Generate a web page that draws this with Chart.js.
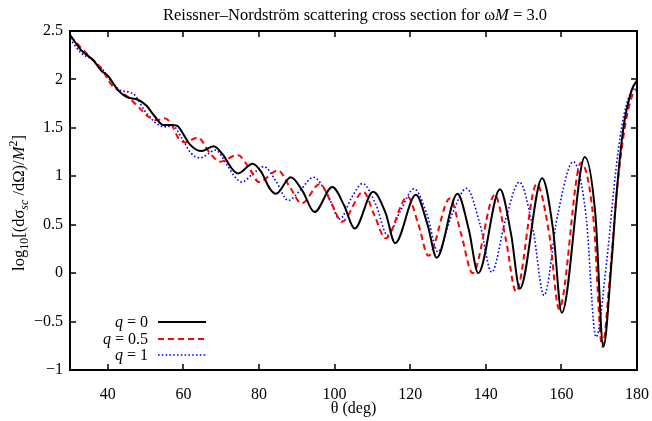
<!DOCTYPE html>
<html>
<head>
<meta charset="utf-8">
<script src="https://cdn.jsdelivr.net/npm/chart.js@4.4.1/dist/chart.umd.min.js"></script>
<style>
  html, body { margin: 0; padding: 0; background: #fff; }
  #wrap { width: 652px; height: 421px; position: relative; }
</style>
</head>
<body>
<div id="wrap"><canvas id="xsec"></canvas></div>
<script>
// scattering angle (deg) and log10 cross section
const thetaQ0 = [30, 33, 36.1, 38.3, 40.0, 42.7, 44.9, 48.0, 50.2, 52.4, 54.6, 56.8, 58.4, 60.2, 61.7, 64.8, 68.0, 70.5, 72.8, 74.5,
  78.3, 80.5, 82.9, 84.5, 88.4, 91.5, 94.7, 99.4, 102.5, 105.3, 110.2, 113.5, 116.0, 121.5, 124.6, 127.0, 132.5, 135.5, 138.0,
  143.75, 146.7, 149.0, 154.9, 157.8, 160.1, 166.2, 169.0, 171.1, 173.3, 174.6, 176.4, 178.6, 180];
const logQ0 = [2.46, 2.30, 2.20, 2.09, 2.04, 1.89, 1.82, 1.79, 1.73, 1.62, 1.53, 1.53, 1.52, 1.42, 1.33, 1.26, 1.31, 1.22, 1.08, 1.03,
  1.13, 1.05, 0.87, 0.82, 0.99, 0.85, 0.63, 0.89, 0.70, 0.46, 0.84, 0.62, 0.31, 0.81, 0.50, 0.16, 0.82, 0.45, 0.0,
  0.865, 0.40, -0.16, 0.98, 0.45, -0.41, 1.20, 0.60, -0.76, 0.13, 0.82, 1.50, 1.89, 1.99];

const thetaQ05 = [30, 32.6, 35.6, 38.3, 40.9, 42.7, 45.3, 48.0, 50.6, 53.0, 55.0, 56.8, 58.6, 60.4, 63.8, 67.0, 69.7, 74.3, 77.5, 80.0,
  85.0, 88.3, 91.3, 96.1, 99.2, 101.9, 107.6, 110.5, 113.5, 119.3, 122.2, 124.8, 130.5, 133.5, 136.5, 142.4, 145.3, 148.0,
  153.45, 156.8, 159.4, 165.2, 168.5, 170.8, 172.9, 174.6, 176.8, 178.6, 180];
const logQ05 = [2.45, 2.34, 2.22, 2.11, 1.95, 1.89, 1.82, 1.72, 1.62, 1.58, 1.60, 1.54, 1.40, 1.35, 1.40, 1.24, 1.15, 1.22, 1.08, 0.94,
  1.06, 0.88, 0.72, 0.92, 0.72, 0.53, 0.84, 0.60, 0.36, 0.79, 0.50, 0.18, 0.77, 0.40, 0.0, 0.81, 0.35, -0.19,
  0.92, 0.40, -0.37, 1.14, 0.55, -0.76, 0.0, 0.82, 1.51, 1.82, 1.91];

const thetaQ1 = [30, 33, 35.6, 38.3, 40.9, 43.2, 45.5, 47.1, 49.7, 52.4, 55.0, 57.2, 59.5, 62.0, 64.4, 68.5, 71.5, 73.5, 75.4, 78.5,
  81.3, 84.5, 87.75, 91.0, 94.4, 98.0, 101.4, 104.5, 107.4, 111.0, 114.0, 117.5, 121.0, 124.5, 127.3, 131.0, 134.9, 138.5,
  141.55, 145.2, 148.9, 152.5, 155.4, 159.0, 163.15, 166.5, 169.15, 172.0, 174.2, 175.95, 178.15, 180];
const logQ1 = [2.42, 2.27, 2.21, 2.12, 1.98, 1.89, 1.87, 1.84, 1.68, 1.56, 1.51, 1.52, 1.40, 1.24, 1.19, 1.27, 1.12, 1.00, 0.94, 1.03,
  1.10, 0.95, 0.75, 0.86, 0.99, 0.82, 0.56, 0.78, 0.925, 0.70, 0.39, 0.65, 0.87, 0.60, 0.22, 0.60, 0.875, 0.50,
  0.01, 0.55, 0.94, 0.45, -0.23, 0.60, 1.15, 0.60, -0.66, 0.13, 0.99, 1.51, 1.85, 1.92];

const xTicks = [40, 60, 80, 100, 120, 140, 160, 180];
const yTicks = [-1, -0.5, 0, 0.5, 1, 1.5, 2, 2.5];
const legendLabels = ['0', '0.5', '1'];

const serif = '"Liberation Serif", "DejaVu Serif", serif';

function pts(xs, ys) {
  return xs.map((x, i) => ({ x: x, y: ys[i] }));
}

// draws a run of pieces: {t, italic, shift, small}
function drawRich(ctx, pieces, x, y, size, align) {
  const fontFor = p => (p.italic ? 'italic ' : '') + (p.small ? Math.round(size * 0.7) : size) + 'px ' + serif;
  let total = 0;
  pieces.forEach(p => { ctx.font = fontFor(p); total += ctx.measureText(p.t).width; });
  let cx = align === 'center' ? x - total / 2 : (align === 'right' ? x - total : x);
  ctx.textAlign = 'left';
  ctx.textBaseline = 'alphabetic';
  pieces.forEach(p => {
    ctx.font = fontFor(p);
    ctx.fillText(p.t, cx, y + (p.shift || 0));
    cx += ctx.measureText(p.t).width;
  });
}

const framePlugin = {
  id: 'frame',
  afterDraw(chart) {
    const ctx = chart.ctx;
    const a = chart.chartArea;
    const xs = chart.scales.x, ys = chart.scales.y;
    ctx.save();
    ctx.strokeStyle = '#000';
    ctx.lineWidth = 1.5;
    ctx.beginPath();
    xTicks.forEach(v => {
      const px = Math.round(xs.getPixelForValue(v));
      ctx.moveTo(px, a.bottom); ctx.lineTo(px, a.bottom - 6);
      ctx.moveTo(px, a.top); ctx.lineTo(px, a.top + 6);
    });
    yTicks.forEach(v => {
      const py = Math.round(ys.getPixelForValue(v));
      ctx.moveTo(a.left, py); ctx.lineTo(a.left + 6, py);
      ctx.moveTo(a.right, py); ctx.lineTo(a.right - 6, py);
    });
    ctx.stroke();
    ctx.lineWidth = 2;
    ctx.strokeRect(a.left, a.top, a.right - a.left, a.bottom - a.top);

    ctx.fillStyle = '#000';
    // title
    drawRich(ctx, [
      { t: 'Reissner\u2013Nordstr\u00f6m scattering cross section for \u03c9' },
      { t: 'M', italic: true },
      { t: ' = 3.0' }
    ], 355, 20, 16.5, 'center');

    // x title
    drawRich(ctx, [{ t: '\u03b8 (deg)' }], (a.left + a.right) / 2, 413, 16, 'center');

    // y title, rotated
    ctx.save();
    ctx.translate(24, 203);
    ctx.rotate(-Math.PI / 2);
    drawRich(ctx, [
      { t: 'log' }, { t: '10', small: true, shift: 4 },
      { t: '[(d\u03c3' }, { t: 'sc', small: true, italic: true, shift: 4 },
      { t: ' /d\u03a9)/' }, { t: 'M', italic: true }, { t: '2', small: true, shift: -7 },
      { t: ']' }
    ], 0, 0, 16.5, 'center');
    ctx.restore();

    // legend
    const styles = chart.data.datasets;
    const rows = [322, 339, 355];
    legendLabels.forEach((lab, i) => {
      ctx.fillStyle = '#000';
      drawRich(ctx, [{ t: 'q', italic: true }, { t: ' = ' + lab }], 148, rows[i] + 5, 16, 'right');
      const ds = styles[i];
      ctx.strokeStyle = ds.borderColor;
      ctx.lineWidth = ds.borderWidth;
      ctx.setLineDash(ds.borderDash || []);
      ctx.beginPath();
      ctx.moveTo(158, rows[i]); ctx.lineTo(206, rows[i]);
      ctx.stroke();
      ctx.setLineDash([]);
    });
    ctx.restore();
  }
};

new Chart(document.getElementById('xsec'), {
  type: 'line',
  data: {
    datasets: [{
      label: 'q = 0',
      data: pts(thetaQ0, logQ0),
      borderColor: '#000000',
      borderWidth: 2,
      pointRadius: 0,
      cubicInterpolationMode: 'monotone'
    }, {
      label: 'q = 0.5',
      data: pts(thetaQ05, logQ05),
      borderColor: '#ff0000',
      borderWidth: 2,
      borderDash: [6, 4],
      pointRadius: 0,
      cubicInterpolationMode: 'monotone'
    }, {
      label: 'q = 1',
      data: pts(thetaQ1, logQ1),
      borderColor: '#0000ff',
      borderWidth: 1.6,
      borderDash: [1.6, 2.2],
      pointRadius: 0,
      cubicInterpolationMode: 'monotone'
    }]
  },
  options: {
    responsive: true,
    maintainAspectRatio: false,
    animation: false,
    layout: { padding: { left: 0, top: 31, right: 15, bottom: 0 } },
    plugins: { legend: { display: false }, title: { display: false }, tooltip: { enabled: false } },
    scales: {
      x: {
        type: 'linear',
        min: 30, max: 180,
        afterBuildTicks: s => { s.ticks = xTicks.map(v => ({ value: v })); },
        afterFit: s => { s.height = 51; s.paddingLeft = 0; s.paddingRight = 0; },
        grid: { display: false, drawTicks: false },
        border: { display: false },
        ticks: { color: '#000', font: { family: serif, size: 16 }, padding: 15, maxRotation: 0 }
      },
      y: {
        min: -1, max: 2.5,
        afterBuildTicks: s => { s.ticks = yTicks.map(v => ({ value: v })); },
        afterFit: s => { s.width = 70; s.paddingTop = 0; s.paddingBottom = 0; },
        grid: { display: false, drawTicks: false },
        border: { display: false },
        ticks: {
          color: '#000', font: { family: serif, size: 16 }, padding: 7,
          callback: v => String(v).replace('-', '\u2212')
        }
      }
    }
  },
  plugins: [framePlugin]
});
</script>
</body>
</html>
